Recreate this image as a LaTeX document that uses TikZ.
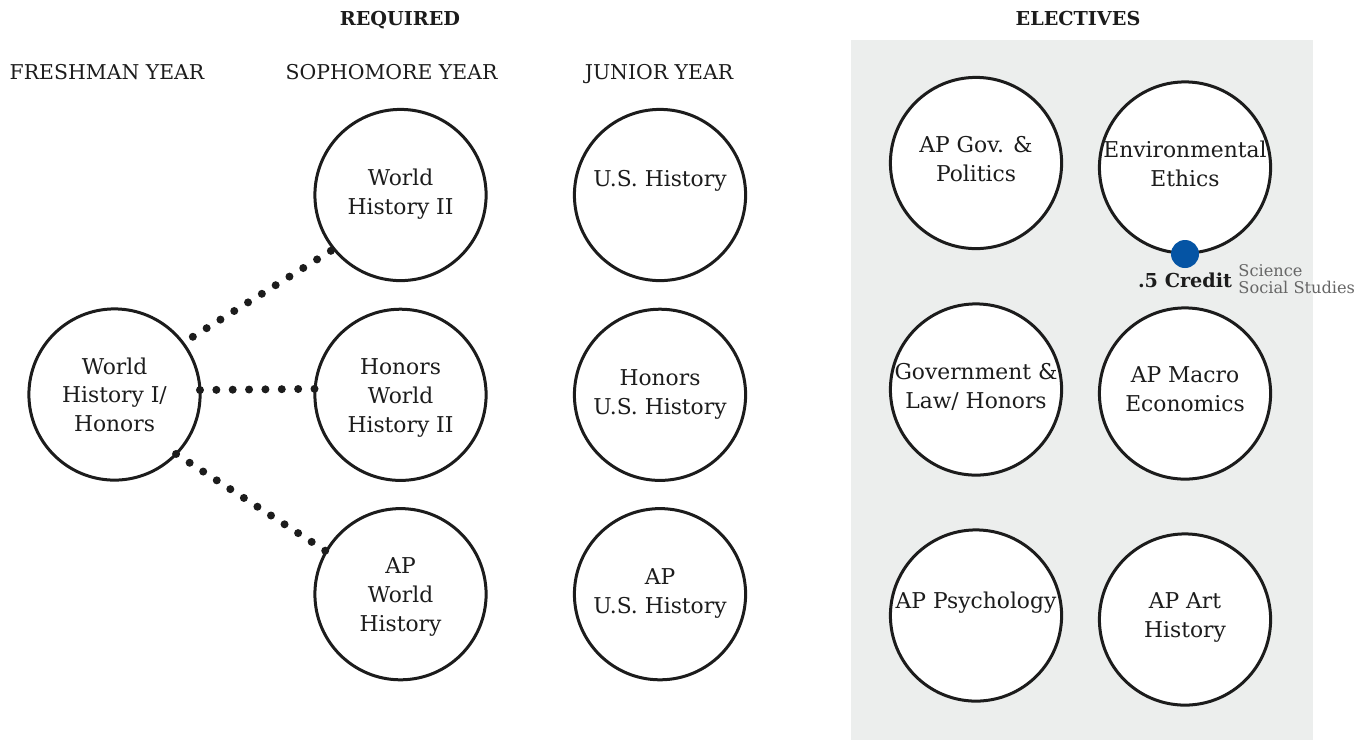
\documentclass[tikz,border=0pt]{standalone}
\usepackage{fontspec}
\setmainfont{DejaVu Serif}
\usetikzlibrary{backgrounds}
\definecolor{ink}{HTML}{1C1C1C}
\definecolor{panel}{HTML}{ECEEED}
\definecolor{credit}{RGB}{5,84,164}
\definecolor{note}{HTML}{666666}
\begin{document}
\begin{tikzpicture}[x=0.5pt,y=-0.5pt,
  course/.style={circle,draw=ink,line width=1.5pt,fill=white,minimum size=85.6pt,inner sep=0pt,outer sep=0pt},
  ctext/.style={align=center,text=ink,font=\fontsize{10.9}{14.4}\selectfont,anchor=base,inner sep=0pt},
  yeartext/.style={text=ink,font=\fontsize{10.2}{12}\selectfont,anchor=base,inner sep=0pt},
  headtext/.style={text=ink,font=\bfseries\fontsize{9.6}{12}\selectfont,anchor=base,inner sep=0pt},
  notetext/.style={text=note,font=\fontsize{8.1}{10}\selectfont,anchor=base west,inner sep=0pt},
  dotline/.style={draw=ink,line width=4pt,line cap=round,dash pattern=on 0pt off 8.13pt}]
\useasboundingbox (0,0) rectangle (1368,740);
\begin{scope}[on background layer]
  \fill[panel] (851,40) rectangle (1313,740);
\end{scope}
% headings
\node[headtext] (req) at (400,25) {REQUIRED};
\node[headtext] (elec) at (1078,25) {ELECTIVES};
\node[yeartext] (fy) at (107,79) {FRESHMAN YEAR};
\node[yeartext] (sy) at (391.5,79) {SOPHOMORE YEAR};
\node[yeartext] (jy) at (659,79) {JUNIOR YEAR};
% circles
\node[course] (wh1) at (114.5,394.5) {};
\node[course] (wh2) at (400.5,195) {};
\node[course] (hwh2) at (400.5,394.8) {};
\node[course] (apw) at (400.5,594.2) {};
\node[course] (us) at (660,195) {};
\node[course] (hus) at (660,394.8) {};
\node[course] (aus) at (660,594.2) {};
\node[course] (gov) at (976,163) {};
\node[course] (env) at (1185,167.5) {};
\node[course] (gl) at (976,389.5) {};
\node[course] (mac) at (1185,393.5) {};
\node[course] (psy) at (976,615.5) {};
\node[course] (art) at (1185,619.5) {};
% circle texts (anchored at the baseline of the last line)
\node[ctext] (wh1t) at (114.5,431.7) {World\\History I/\\Honors};
\node[ctext] (wh2t) at (400.5,214.3) {World\\History II};
\node[ctext] (hwh2t) at (400.5,432.2) {Honors\\World\\History II};
\node[ctext] (apwt) at (400.5,631) {AP\\World\\History};
\node[ctext] (ust) at (660,186) {U.S. History};
\node[ctext] (hust) at (660,414.5) {Honors\\U.S. History};
\node[ctext] (aust) at (660,613.3) {AP\\U.S. History};
\node[ctext] (govt) at (976,181.7) {AP Gov. \&\\Politics};
\node[ctext] (envt) at (1185,186) {Environmental\\Ethics};
\node[ctext] (glt) at (976,408.3) {Government \&\\Law/ Honors};
\node[ctext] (mact) at (1185,411.7) {AP Macro\\Economics};
\node[ctext] (psyt) at (976,608.3) {AP Psychology};
\node[ctext] (artt) at (1185,637.7) {AP Art\\History};
% credit marker
\node[circle,fill=credit,minimum size=14pt,inner sep=0pt] (cdot) at (1185,254) {};
\node[text=ink,font=\bfseries\fontsize{9.6}{12}\selectfont,anchor=base,inner sep=0pt] (cred) at (1185,287.7) {.5 Credit};
\node[notetext] (sci) at (1238,276.7) {Science};
\node[notetext] (soc) at (1238,293.3) {Social Studies};
% dotted connectors (drawn over the circle outlines)
\draw[dotline,dash phase=2.25pt] (wh1.37) -- (wh2.219);
\draw[dotline,dash pattern=on 0pt off 8.18pt] (wh1.3.5) -- (hwh2.176.5);
\draw[dotline,dash pattern=on 0pt off 8.08pt] (wh1.-44) -- (apw.150.4);
\end{tikzpicture}
\end{document}
